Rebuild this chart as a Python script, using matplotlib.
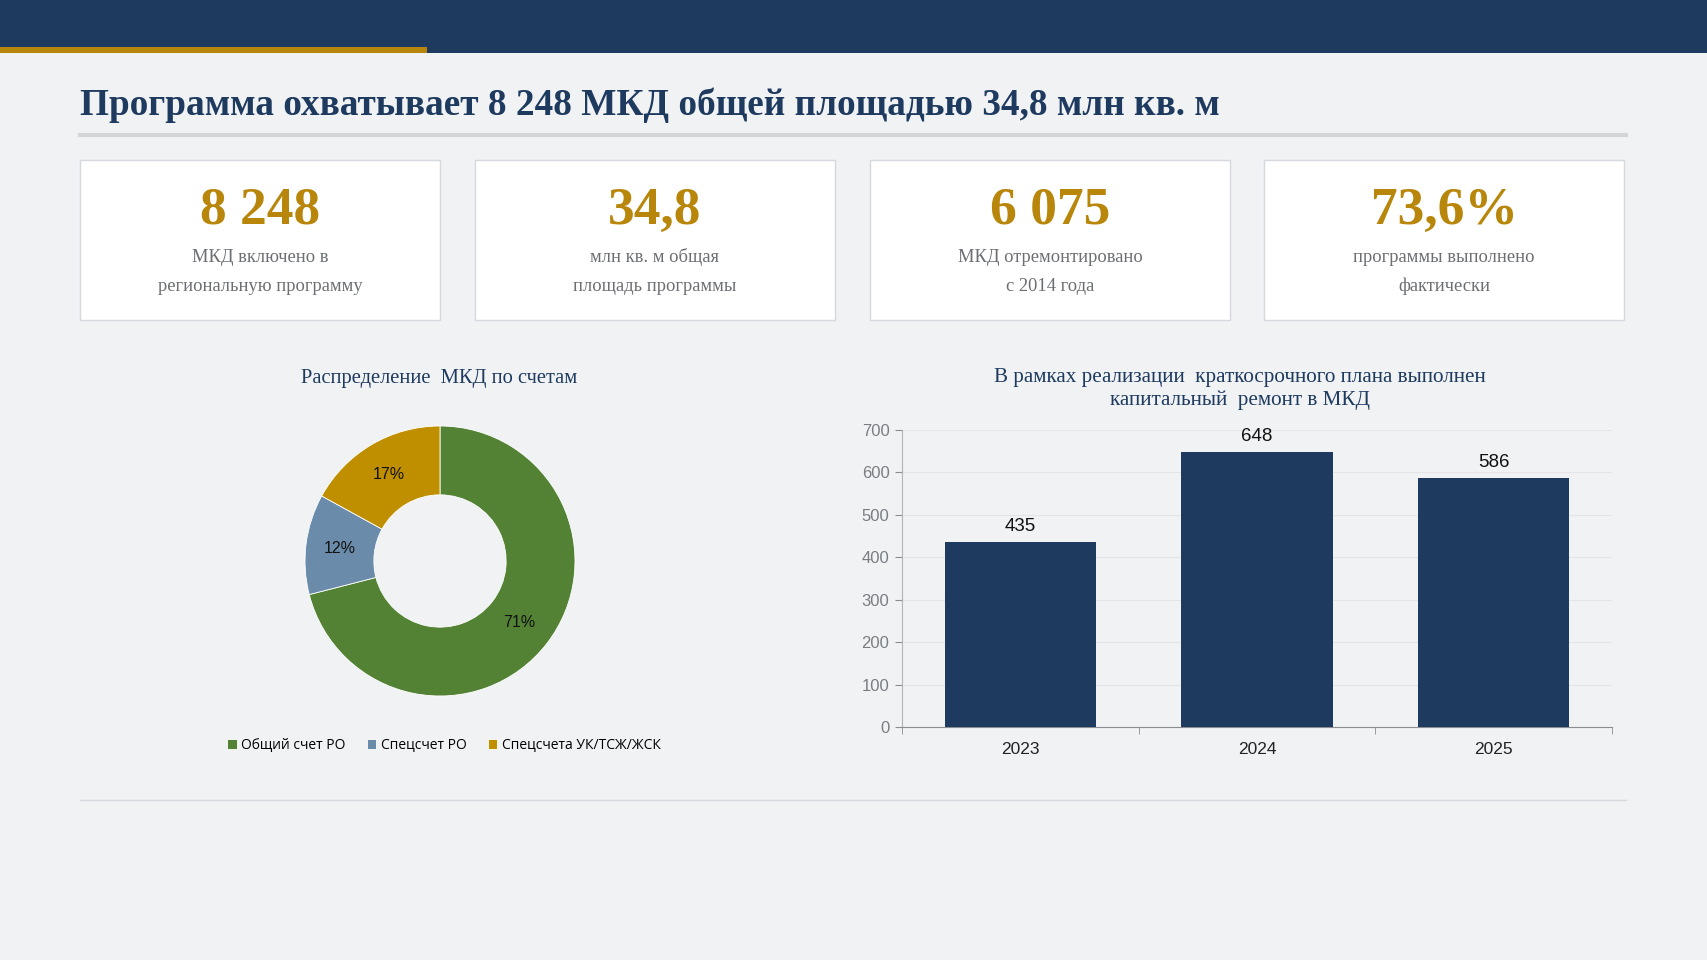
import matplotlib
matplotlib.use("Agg")
import matplotlib.pyplot as plt
from matplotlib.patches import Rectangle
from matplotlib.lines import Line2D

# ---------------- data ----------------
title = "Программа охватывает 8 248 МКД общей площадью 34,8 млн кв. м"
kpi_values = ["8 248", "34,8", "6 075", "73,6%"]
kpi_line1 = ["МКД включено в", "млн кв. м общая", "МКД отремонтировано", "программы выполнено"]
kpi_line2 = ["региональную программу", "площадь программы", "с 2014 года", "фактически"]

pie_title = "Распределение  МКД по счетам"
pie_labels = ["Общий счет РО", "Спецсчет РО", "Спецсчета УК/ТСЖ/ЖСК"]
pie_values = [71, 12, 17]

bar_title = "В рамках реализации  краткосрочного плана выполнен\nкапитальный  ремонт в МКД"
bar_years = ["2023", "2024", "2025"]
bar_values = [435, 648, 586]

# ---------------- style ----------------
W, H = 1707, 960
BG = "#F0F2F4"
NAVY = "#1E3A5F"
GOLD = "#B8860B"
GREEN = "#548235"
STEEL = "#6A8CAA"
OCHRE = "#BF8F00"
SERIF = ["Liberation Serif", "DejaVu Serif"]
SANS = ["Liberation Sans", "DejaVu Sans"]

fig = plt.figure(figsize=(W / 100, H / 100), dpi=100, facecolor=BG)


def fx(x):
    return x / W


def fy(y):
    return 1 - y / H


def rect(x, y, w, h, **kw):
    fig.patches.append(Rectangle((fx(x), fy(y + h)), w / W, h / H,
                                 transform=fig.transFigure, figure=fig, **kw))


def hline(x0, x1, y, **kw):
    fig.lines.append(Line2D([fx(x0), fx(x1)], [fy(y), fy(y)],
                            transform=fig.transFigure, figure=fig, **kw))


# top bar
rect(0, 0, W, 53, facecolor=NAVY, edgecolor="none")
rect(0, 47.5, 427, 5, facecolor=GOLD, edgecolor="none")

# title
fig.text(fx(80), fy(115), title, fontsize=26.8, fontweight="bold",
         family=SERIF, color=NAVY, ha="left", va="baseline")
hline(80, 1626, 134.5, color="#D3D5D9", linewidth=3)

# KPI cards
card_x = [80, 475, 870, 1264]
card_w = 360
for i, x0 in enumerate(card_x):
    rect(x0, 160, card_w, 160, facecolor="white", edgecolor="#D5D8DC", linewidth=1)
    cx = x0 + card_w / 2
    fig.text(fx(cx), fy(224), kpi_values[i], fontsize=38.5, fontweight="bold",
             family=SERIF, color=GOLD, ha="center", va="baseline")
    fig.text(fx(cx), fy(262), kpi_line1[i], fontsize=13.3, family=SERIF,
             color="#6B6E73", ha="center", va="baseline")
    fig.text(fx(cx), fy(291), kpi_line2[i], fontsize=13.3, family=SERIF,
             color="#6B6E73", ha="center", va="baseline")

# ---------------- donut ----------------
R = 135
pcx, pcy = 440, 561
axp = fig.add_axes([fx(pcx - R), fy(pcy + R), 2 * R / W, 2 * R / H])
axp.set_facecolor("none")
wedges, texts, autot = axp.pie(
    pie_values, colors=[GREEN, STEEL, OCHRE], startangle=90, counterclock=False,
    radius=1, wedgeprops=dict(width=0.51, edgecolor="white", linewidth=0.6),
    autopct=lambda p: f"{p:.0f}%", pctdistance=0.745,
    textprops=dict(fontsize=11.5, color="#111111", family=SANS))
axp.set_xlim(-1, 1)
axp.set_ylim(-1, 1)
axp.axis("off")

fig.text(fx(439), fy(378), pie_title, fontsize=14.8, family=SERIF, color=NAVY,
         ha="center", va="center")

fig.legend(wedges, pie_labels, loc="center", bbox_to_anchor=(fx(444), fy(745)),
           ncol=3, frameon=False, handlelength=0.7, handleheight=0.7,
           handletextpad=0.35, columnspacing=1.5,
           prop=dict(family=["Open Sans", "DejaVu Sans"], size=10))

# ---------------- bars ----------------
axb = fig.add_axes([fx(902), fy(727), (1612 - 902) / W, (727 - 430) / H])
axb.set_facecolor("none")
xs = range(len(bar_years))
bars = axb.bar(xs, bar_values, width=0.64, color=NAVY, zorder=3)
axb.set_xlim(-0.5, len(bar_years) - 0.5)
axb.set_ylim(0, 700)
axb.set_yticks(range(0, 701, 100))
axb.grid(axis="y", color="#E2E4E7", linewidth=0.8, zorder=0)
for s in ["top", "right", "left"]:
    axb.spines[s].set_visible(False)
axb.spines["bottom"].set_color("#8A8D91")
axb.set_xticks(list(xs))
axb.set_xticklabels(bar_years)
axb.set_xticks([-0.5, 0.5, 1.5, 2.5], minor=True)
axb.tick_params(axis="x", which="major", length=0, pad=11, labelsize=12.5,
                labelcolor="#222222")
axb.tick_params(axis="x", which="minor", length=5, color="#8A8D91")
axb.tick_params(axis="y", length=5, color="#8A8D91", labelsize=12,
                labelcolor="#7A7D82", pad=4)
axb.plot([-0.5, -0.5], [0, 700], color="#B0B3B7", linewidth=0.8, clip_on=False)
for lbl in axb.get_xticklabels() + axb.get_yticklabels():
    lbl.set_family(SANS)
axb.bar_label(bars, labels=[str(v) for v in bar_values], padding=5,
              fontsize=13.5, color="#111111", family=SANS)

fig.text(fx(1240), fy(389), bar_title, fontsize=15.2, family=SERIF, color=NAVY,
         ha="center", va="center", linespacing=1.25)

# bottom separator
hline(80, 1626, 800, color="#D5D8DC", linewidth=1)

fig.savefig("out.png", dpi=100, facecolor=BG)
